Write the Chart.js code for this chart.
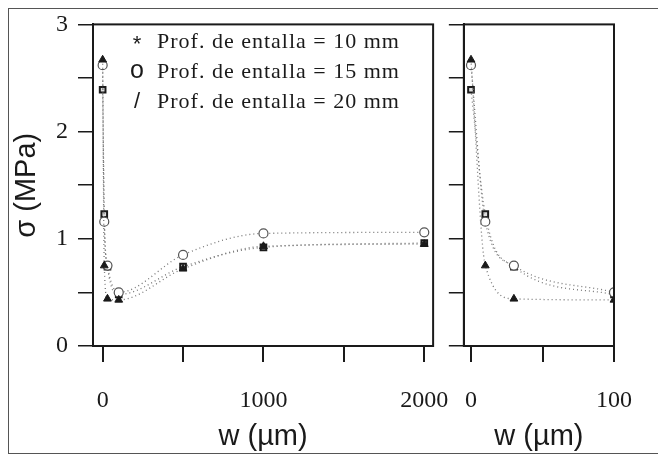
<!DOCTYPE html>
<html>
<head>
<meta charset="utf-8">
<script src="https://cdn.jsdelivr.net/npm/chart.js@4.4.1/dist/chart.umd.min.js"></script>
<style>
  html, body { margin: 0; padding: 0; background: #fff; }
  #wrap { position: relative; width: 658px; height: 459px; overflow: hidden; }
  #frame { position: absolute; left: 8px; top: 8px; width: 700px; height: 444px; border: 1px solid #555; }
  #left { position: absolute; left: 0; top: 0; }
  #right { position: absolute; left: 440px; top: 0; }
</style>
</head>
<body>
<div id="wrap">
  <div id="frame"></div>
  <canvas id="left" width="473" height="459"></canvas>
  <canvas id="right" width="218" height="459"></canvas>
</div>
<script>
// notch width w (um) and stress sigma (MPa) for each notch depth
const wValues = [0, 10, 30, 100, 500, 1000, 2000];
const sigma10mm = [2.67, 0.75, 0.44, 0.43, 0.72, 0.93, 0.95];
const sigma15mm = [2.62, 1.16, 0.75, 0.50, 0.85, 1.05, 1.06];
const sigma20mm = [2.39, 1.23, 0.74, 0.48, 0.74, 0.92, 0.96];

const legendGlyphs = ['*', 'o', '/'];
const legendLabels = ['Prof. de entalla = 10 mm', 'Prof. de entalla = 15 mm', 'Prof. de entalla = 20 mm'];

const leftTicksW = [0, 500, 1000, 1500, 2000];
const rightTicksW = [0, 50, 100];
const sigmaTicks = [0, 0.5, 1, 1.5, 2, 2.5, 3];

const ink = '#1a1a1a';
const serif = "'Liberation Serif', 'DejaVu Serif', serif";
const sans = "'Liberation Sans', 'DejaVu Sans', sans-serif";

function points(values, maxW) {
  const out = [];
  wValues.forEach((w, i) => {
    if (w <= maxW) out.push({ x: w, y: values[i] });
  });
  return out;
}

function makeDatasets(maxW) {
  const common = {
    borderColor: '#777',
    borderWidth: 1.3,
    borderDash: [1, 3],
    cubicInterpolationMode: 'monotone',
    pointRadius: 4.5,
  };
  return [
    Object.assign({}, common, {
      label: legendLabels[0],
      data: points(sigma10mm, maxW),
      pointStyle: 'triangle',
      pointBackgroundColor: ink,
      pointBorderColor: ink,
      pointBorderWidth: 1,
    }),
    Object.assign({}, common, {
      label: legendLabels[1],
      data: points(sigma15mm, maxW),
      pointStyle: 'circle',
      pointBackgroundColor: '#fff',
      pointBorderColor: '#555',
      pointBorderWidth: 1.2,
    }),
    Object.assign({}, common, {
      label: legendLabels[2],
      data: points(sigma20mm, maxW),
      pointStyle: 'rect',
      pointRadius: 4,
      pointBackgroundColor: '#ddd',
      pointBorderColor: ink,
      pointBorderWidth: 2,
    }),
  ];
}

// box round the plot area (top and right sides too)
const boxPlugin = {
  id: 'box',
  afterDatasetsDraw(chart) {
    const a = chart.chartArea;
    const c = chart.ctx;
    c.save();
    c.strokeStyle = ink;
    c.lineWidth = 2;
    c.strokeRect(a.left, a.top, a.right - a.left, a.bottom - a.top);
    c.restore();
  }
};

// text legend inside the left panel
const legendPlugin = {
  id: 'textLegend',
  afterDraw(chart) {
    const c = chart.ctx;
    c.save();
    c.fillStyle = ink;
    c.textBaseline = 'alphabetic';
    legendLabels.forEach((label, i) => {
      const y = 48 + i * 30;
      c.font = (i === 1 ? '25px ' : '22px ') + sans;
      c.textAlign = 'center';
      c.fillText(legendGlyphs[i], 137, i === 0 ? y + 3 : y);
      c.font = '22px ' + serif;
      c.textAlign = 'left';
      c.letterSpacing = '1px';
      c.fillText(label, 157, y);
      c.letterSpacing = '0px';
    });
    c.restore();
  }
};

function makePanel(id, opts) {
  new Chart(document.getElementById(id), {
    type: 'line',
    data: { datasets: makeDatasets(opts.maxW) },
    options: {
      responsive: false,
      animation: false,
      layout: { padding: { left: 0, top: 23, right: opts.padRight, bottom: 0 } },
      plugins: { legend: { display: false }, tooltip: { enabled: false } },
      scales: {
        x: {
          type: 'linear',
          min: opts.xMin,
          max: opts.xMax,
          afterBuildTicks: s => { s.ticks = opts.xTicks.map(v => ({ value: v })); },
          afterFit: s => { s.height = 113; },
          border: { display: true, color: ink, width: 2 },
          grid: { drawOnChartArea: false, drawTicks: true, tickLength: 16, color: ink, lineWidth: 2 },
          ticks: {
            color: ink,
            padding: 24,
            maxRotation: 0,
            font: { family: serif, size: 24 },
            callback: v => (opts.xLabels.includes(v) ? v : ''),
          },
          title: {
            display: true,
            text: 'w (\u00b5m)',
            color: ink,
            font: { family: sans, size: 29 },
            padding: { top: 0, bottom: 5 },
          },
        },
        y: {
          min: 0,
          max: 3,
          afterBuildTicks: s => { s.ticks = sigmaTicks.map(v => ({ value: v })); },
          afterFit: s => { s.width = opts.yWidth; },
          border: { display: true, color: ink, width: 2 },
          grid: { drawOnChartArea: false, drawTicks: true, tickLength: 15, color: ink, lineWidth: 1.5 },
          ticks: {
            color: ink,
            padding: 10,
            font: { family: serif, size: 24 },
            callback: v => (opts.yLabels && v % 1 === 0 ? v : ''),
          },
          title: {
            display: opts.yLabels,
            text: '\u03c3 (MPa)',
            color: ink,
            font: { family: sans, size: 29 },
            padding: { top: 10, bottom: 0 },
          },
        },
      },
    },
    plugins: opts.legend ? [boxPlugin, legendPlugin] : [boxPlugin],
  });
}

makePanel('left', {
  maxW: 2000, xMin: -60, xMax: 2055, xTicks: leftTicksW, xLabels: [0, 1000, 2000],
  padRight: 28, yWidth: 93, yLabels: true, legend: true,
});
makePanel('right', {
  maxW: 100, xMin: -5, xMax: 100, xTicks: rightTicksW, xLabels: [0, 100],
  padRight: 44, yWidth: 21, yLabels: false, legend: false,
});
</script>
</body>
</html>
